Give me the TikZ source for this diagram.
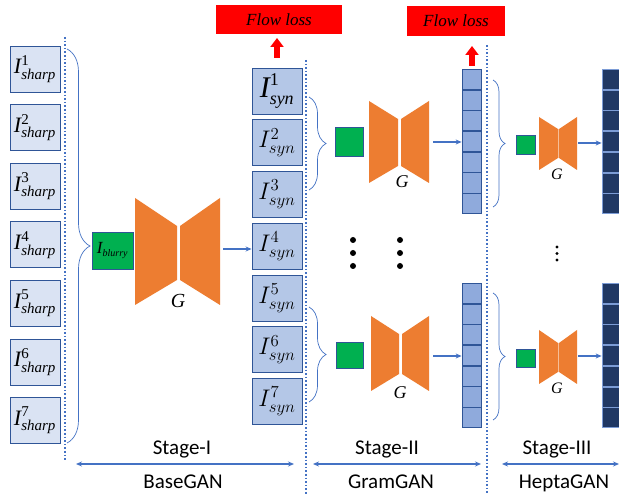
\documentclass[tikz,border=0pt]{standalone}
\usepackage{fix-cm}
\usepackage{fontspec}
\setmainfont{Liberation Serif}
\newfontfamily\stagefont{Carlito}
\usetikzlibrary{arrows.meta,decorations.pathreplacing}
\definecolor{bdr}{HTML}{2F5597}
\definecolor{arrblue}{HTML}{4472C4}
\definecolor{sharpfill}{HTML}{DAE3F3}
\definecolor{synfill}{HTML}{B4C7E7}
\definecolor{cellfill}{HTML}{8FAADC}
\definecolor{darkfill}{HTML}{203864}
\definecolor{gengreen}{HTML}{00B050}
\definecolor{genorange}{HTML}{ED7D31}
\newcommand\sharplab[1]{\rmfamily\fontsize{22}{22}\selectfont$\textit{I}^{\hbox{\fontsize{15}{15}\selectfont #1}}_{\hbox{\fontsize{15}{15}\selectfont\itshape sharp}}$}
\newcommand\synlab[1]{\fontsize{24}{24}\selectfont$I^{#1}_{syn}$}
\begin{document}
\begin{tikzpicture}[x=1pt,y=-1pt,
  sharpbox/.style={draw=bdr,fill=sharpfill,line width=0.9pt,minimum width=50pt,minimum height=46pt,inner sep=0pt},
  synbox/.style={draw=bdr,fill=synfill,line width=0.9pt,minimum width=50pt,minimum height=46pt,inner sep=0pt},
  cellbox/.style={draw=bdr,fill=cellfill,line width=0.8pt,minimum width=19pt,minimum height=20.2pt,inner sep=0pt},
  darkcell/.style={draw=arrblue!70!white,fill=darkfill,line width=0.8pt,minimum width=19pt,minimum height=20pt,inner sep=0pt},
  greenbox/.style={draw=bdr,fill=gengreen,line width=0.8pt,inner sep=0pt},
  genpart/.style={fill=genorange},
  glabel/.style={inner sep=0pt,font=\rmfamily\itshape},
  flowbox/.style={fill=red,inner sep=0pt,font=\rmfamily\fontsize{17}{17}\selectfont\itshape},
  redarrow/.style={draw=red,line width=6pt,-{Triangle[length=9pt,width=13pt]}},
  bluearrow/.style={draw=arrblue,line width=1.2pt,-{Stealth[length=6pt,width=5pt]}},
  stagearrow/.style={draw=arrblue,line width=1.2pt,{Stealth[length=6pt,width=5pt]}-{Stealth[length=6pt,width=5pt]}},
  bracepath/.style={draw=arrblue,line width=0.7pt,decorate},
  sep/.style={draw=arrblue,dotted,line width=1.6pt},
  stagetext/.style={inner sep=0pt,anchor=base,font=\stagefont\fontsize{21}{21}\selectfont},
  dot/.style={fill=black}
]
\clip (0,0) rectangle (619,494);
\fill[white] (0,0) rectangle (619,494);

% separators
\draw[sep] (65,37) -- (65,460);
\draw[sep] (306,60) -- (306,494);
\draw[sep] (487,45) -- (487,494);

% flow loss
\node[flowbox,minimum width=126pt,minimum height=29pt] (fl1) at (279,19.5) {Flow loss};
\node[flowbox,minimum width=98pt,minimum height=30pt] (fl2) at (456,21) {Flow loss};
\coordinate (r1a) at (277,58); \coordinate (r1b) at (277,38);
\coordinate (r2a) at (472,66); \coordinate (r2b) at (472,46);
\draw[redarrow] (r1a) -- (r1b);
\draw[redarrow] (r2a) -- (r2b);

% sharp column
\foreach \i in {1,...,7} {
  \node[sharpbox] (sh\i) at (35,{69+58.6*(\i-1)}) {\sharplab{\i}};
}
\draw[bracepath,decoration={brace,amplitude=23pt}] (67,49) -- (67,443);

% blurry + generator
\node[greenbox,minimum width=41pt,minimum height=37pt] (blur) at (112.5,250.5)
  {\rmfamily\fontsize{17}{17}\selectfont$\textit{I}_{\hbox{\fontsize{10}{10}\selectfont\itshape blurry}}$};
\fill[genpart] (135,198) -- (177,226) -- (177,280) -- (135,305) -- cycle;
\fill[genpart] (180,226) -- (220,198) -- (220,305) -- (180,280) -- cycle;
\node[glabel,font=\rmfamily\fontsize{20}{20}\selectfont\itshape] (g1lab) at (178,301) {G};
\coordinate (g1) at (223,249);

% syn column
\node[synbox] (syn1) at (277,91) {\rmfamily\fontsize{30}{30}\selectfont$\textit{I}^{\hbox{\fontsize{18}{18}\selectfont 1}}_{\hbox{\fontsize{18}{18}\selectfont\itshape syn}}$};
\foreach \i in {2,...,7} {
  \node[synbox] (syn\i) at (277,{91+51.75*(\i-1)}) {\synlab{\i}};
}
\draw[bluearrow] (g1) -- (g1 -| syn4.west);
\draw[bracepath,decoration={brace,amplitude=17pt}] (309,97) -- (309,190);
\draw[bracepath,decoration={brace,amplitude=17pt}] (309,307) -- (309,402);

% Stage II top
\node[greenbox,minimum width=28pt,minimum height=29pt] (gA) at (349,141.5) {};
\fill[genpart] (369,101) -- (398,119) -- (398,166) -- (369,183) -- cycle;
\fill[genpart] (401,119) -- (429,101) -- (429,183) -- (401,166) -- cycle;
\node[glabel,font=\rmfamily\fontsize{18}{18}\selectfont\itshape] (g2alab) at (402,182) {G};
\coordinate (g2a) at (433,142);
\foreach \i in {1,...,7} {
  \node[cellbox] (ca\i) at (471.5,{79.36+20.71*(\i-1)}) {};
}
\draw[bluearrow] (g2a) -- (g2a -| ca4.west);

% Stage II bottom
\node[greenbox,minimum width=27pt,minimum height=26pt] (gB) at (349.5,355) {};
\fill[genpart] (371,316) -- (399,334) -- (399,374) -- (371,391) -- cycle;
\fill[genpart] (402,334) -- (429,316) -- (429,391) -- (402,374) -- cycle;
\node[glabel,font=\rmfamily\fontsize{18}{18}\selectfont\itshape] (g2blab) at (400,393) {G};
\coordinate (g2b) at (433,356);
\foreach \i in {1,...,7} {
  \node[cellbox] (cb\i) at (471.5,{293.36+20.71*(\i-1)}) {};
}
\draw[bluearrow] (g2b) -- (g2b -| cb4.west);

% dots stage II
\foreach \x in {353,400} \foreach \y in {240,253,266} \fill[dot] (\x,\y) circle (3pt);

% Stage III
\draw[bracepath,decoration={brace,amplitude=12pt}] (493,80) -- (493,207);
\draw[bracepath,decoration={brace,amplitude=12pt}] (493,293) -- (493,420);
\node[greenbox,minimum width=19pt,minimum height=19pt] (hA) at (525.5,144.5) {};
\fill[genpart] (539,117) -- (558,129) -- (558,158) -- (539,170) -- cycle;
\fill[genpart] (559,129) -- (577,117) -- (577,170) -- (559,158) -- cycle;
\draw[genorange!50!white,line width=0.8pt] (558.5,129) -- (558.5,158);
\node[glabel,font=\rmfamily\fontsize{16}{16}\selectfont\itshape] (g3alab) at (557,174) {G};
\coordinate (g3a) at (578,143);
\foreach \i in {1,...,7} {
  \node[darkcell] (da\i) at (611.5,{79.36+20.71*(\i-1)}) {};
}
\draw[bluearrow] (g3a) -- (g3a -| da4.west);

\node[greenbox,minimum width=19pt,minimum height=18pt] (hB) at (525.5,358) {};
\fill[genpart] (539,330) -- (558,343) -- (558,372) -- (539,384) -- cycle;
\fill[genpart] (559,343) -- (577,330) -- (577,384) -- (559,372) -- cycle;
\draw[genorange!50!white,line width=0.8pt] (558.5,343) -- (558.5,372);
\node[glabel,font=\rmfamily\fontsize{16}{16}\selectfont\itshape] (g3blab) at (557,388) {G};
\coordinate (g3b) at (578,356);
\foreach \i in {1,...,7} {
  \node[darkcell] (db\i) at (611.5,{293.36+20.71*(\i-1)}) {};
}
\draw[bluearrow] (g3b) -- (g3b -| db4.west);
\foreach \y in {247,253.5,260} \fill[dot] (557,\y) circle (1.6pt);

% stage labels
\node[stagetext] (st1) at (182,455) {Stage-I};
\node[stagetext] (st2) at (387,455) {Stage-II};
\node[stagetext] (st3) at (557,455) {Stage-III};
\node[stagetext] (gan1) at (183,488) {BaseGAN};
\node[stagetext] (gan2) at (391,488) {GramGAN};
\node[stagetext] (gan3) at (564,488) {HeptaGAN};
\coordinate (a1l) at (76,464); \coordinate (a1r) at (294,464);
\coordinate (a2l) at (313,464); \coordinate (a2r) at (481,464);
\coordinate (a3l) at (502,464); \coordinate (a3r) at (619,464);
\draw[stagearrow] (a1l) -- (a1r);
\draw[stagearrow] (a2l) -- (a2r);
\draw[stagearrow] (a3l) -- (a3r);
\end{tikzpicture}
\end{document}
